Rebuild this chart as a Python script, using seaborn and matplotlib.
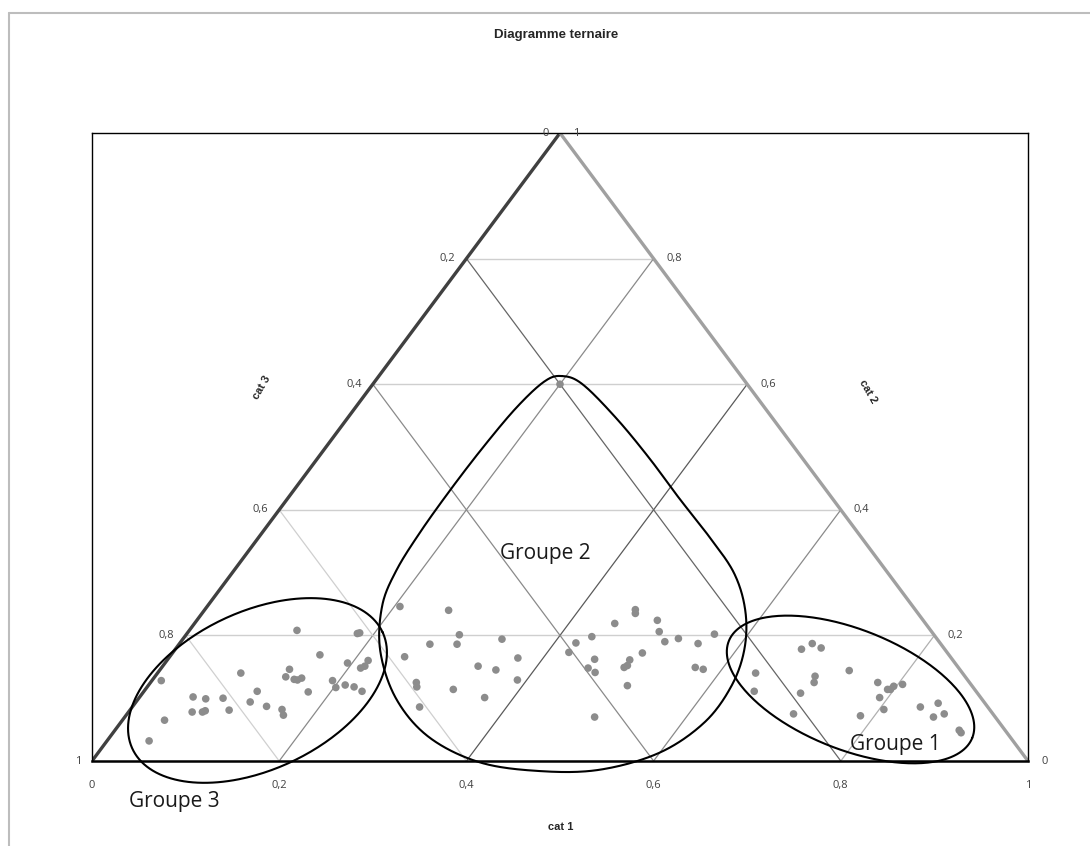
import numpy as np
import pandas as pd
import matplotlib
matplotlib.use("Agg")
import matplotlib.pyplot as plt
from matplotlib.lines import Line2D
import seaborn as sns

# compositions; cat 3 = 1 - cat 1 - cat 2
cat1_g3 = [0.115, 0.184, 0.182, 0.159, 0.195, 0.215, 0.216, 0.213, 0.138, 0.140,
           0.151, 0.155, 0.158, 0.089, 0.193, 0.202, 0.210, 0.221, 0.233, 0.176,
           0.121, 0.122, 0.143, 0.162, 0.168, 0.010, 0.057, 0.072, 0.090, 0.106,
           0.068, 0.079, 0.081, 0.045, 0.045]
cat2_g3 = [0.208, 0.204, 0.203, 0.169, 0.156, 0.160, 0.151, 0.148, 0.146, 0.134,
           0.130, 0.129, 0.132, 0.140, 0.128, 0.117, 0.121, 0.118, 0.111, 0.110,
           0.111, 0.094, 0.087, 0.082, 0.073, 0.128, 0.102, 0.099, 0.100, 0.081,
           0.078, 0.078, 0.080, 0.065, 0.032]

cat1_g2 = [0.206, 0.261, 0.292, 0.268, 0.297, 0.341, 0.251, 0.337, 0.359, 0.373,
           0.390, 0.284, 0.288, 0.329, 0.369, 0.307, 0.460, 0.463, 0.449, 0.492,
           0.503, 0.435, 0.423, 0.517, 0.529, 0.564, 0.554, 0.423, 0.502, 0.456,
           0.494, 0.496, 0.494, 0.456, 0.467, 0.570, 0.580, 0.512, 0.502, 0.200]
cat2_g2 = [0.246, 0.240, 0.201, 0.186, 0.186, 0.194, 0.166, 0.151, 0.145, 0.164,
           0.129, 0.125, 0.118, 0.114, 0.101, 0.086, 0.241, 0.235, 0.219, 0.224,
           0.206, 0.198, 0.188, 0.190, 0.195, 0.202, 0.187, 0.173, 0.172, 0.162,
           0.161, 0.152, 0.149, 0.148, 0.141, 0.149, 0.146, 0.120, 0.070, 0.600]

cat1_g1 = [0.669, 0.676, 0.689, 0.639, 0.652, 0.703, 0.705, 0.709, 0.737, 0.712,
           0.785, 0.777, 0.793, 0.796, 0.797, 0.805, 0.791, 0.805, 0.842, 0.858,
           0.864, 0.873, 0.902, 0.906]
cat2_g1 = [0.178, 0.187, 0.180, 0.140, 0.111, 0.108, 0.135, 0.125, 0.144, 0.075,
           0.072, 0.125, 0.114, 0.114, 0.119, 0.122, 0.101, 0.082, 0.086, 0.092,
           0.070, 0.075, 0.049, 0.045]

grid_vals = [0.2, 0.4, 0.6, 0.8]
tick_vals = [0.0, 0.2, 0.4, 0.6, 0.8, 1.0]

# hand-drawn outline of "Groupe 2" (x along cat 1 axis, height = cat 2)
g2_outline = [(0.502, 0.613), (0.524, 0.600), (0.560, 0.546), (0.595, 0.483),
              (0.627, 0.419), (0.659, 0.358), (0.686, 0.299), (0.698, 0.239),
              (0.697, 0.178), (0.683, 0.119), (0.654, 0.061), (0.606, 0.013),
              (0.542, -0.014), (0.478, -0.016), (0.414, -0.002), (0.360, 0.038),
              (0.325, 0.099), (0.308, 0.175), (0.310, 0.247), (0.325, 0.303),
              (0.350, 0.363), (0.382, 0.430), (0.417, 0.498), (0.453, 0.562),
              (0.483, 0.604)]


def fmt(v):
    return ("%g" % round(v, 1)).replace(".", ",")


def to_xy(c1, c2):
    c1 = np.asarray(c1)
    c2 = np.asarray(c2)
    return c1 + c2 / 2, c2


def closed_spline(pts, n=30):
    p = np.asarray(pts, dtype=float)
    m = len(p)
    t = np.linspace(0, 1, n, endpoint=False)[:, None]
    segs = []
    for i in range(m):
        p0, p1, p2, p3 = p[i - 1], p[i], p[(i + 1) % m], p[(i + 2) % m]
        segs.append(0.5 * (2 * p1 + (p2 - p0) * t
                           + (2 * p0 - 5 * p1 + 4 * p2 - p3) * t ** 2
                           + (3 * p1 - p0 - 3 * p2 + p3) * t ** 3))
    out = np.vstack(segs + [segs[0][:1]])
    return out[:, 0], out[:, 1]


rows = []
for grp, c1s, c2s in [("Groupe 3", cat1_g3, cat2_g3),
                      ("Groupe 2", cat1_g2, cat2_g2),
                      ("Groupe 1", cat1_g1, cat2_g1)]:
    for a, b in zip(c1s, c2s):
        rows.append({"groupe": grp, "cat1": a, "cat2": b, "cat3": 1 - a - b})
df = pd.DataFrame(rows)
df["x"], df["y"] = to_xy(df["cat1"], df["cat2"])

sns.set_theme(style="white")
plt.rcParams["font.family"] = ["Liberation Sans", "DejaVu Sans"]

W, H = 1090, 846
fig = plt.figure(figsize=(W / 100, H / 100), dpi=100)
ax = fig.add_axes([92 / W, (H - 761) / H, 936 / W, 628 / H])
ax.set_xlim(0, 1)
ax.set_ylim(0, 1)
ax.set_xticks([])
ax.set_yticks([])
for side in ["left", "top", "right"]:
    ax.spines[side].set_color("black")
    ax.spines[side].set_linewidth(1.0)
ax.spines["bottom"].set_color("black")
ax.spines["bottom"].set_linewidth(1.8)

# grid: horizontal (cat 2), rising (cat 1), falling (cat 3)
for h in grid_vals:
    ax.plot([h / 2, 1 - h / 2], [h, h], color="#cfcfcf", lw=1.0, zorder=1)
rise_cols = {0.2: "#8a8a8a", 0.4: "#5a5a5a", 0.6: "#8a8a8a", 0.8: "#b0b0b0"}
for c in grid_vals:
    ax.plot([c, c + (1 - c) / 2], [0, 1 - c], color=rise_cols[c], lw=0.9, zorder=1)
fall_cols = {0.2: "#d0d0d0", 0.4: "#cfcfcf", 0.6: "#8a8a8a", 0.8: "#666666"}
for c in grid_vals:
    ax.plot([c, c / 2], [0, c], color=fall_cols[c], lw=0.9, zorder=1)

# triangle sides
ax.plot([0, 0.5], [0, 1], color="#404040", lw=2.4, zorder=2, solid_capstyle="butt")
ax.plot([0.5, 1], [1, 0], color="#a0a0a0", lw=2.4, zorder=2, solid_capstyle="butt")

sns.scatterplot(data=df, x="x", y="y", color="#8c8c8c", s=30, edgecolor="none",
                ax=ax, zorder=3, legend=False)
ax.set_xlabel("")
ax.set_ylabel("")

# tick labels on the three sides
tk = dict(fontsize=8, color="#404040", family=["Open Sans", "DejaVu Sans"],
          textcoords="offset pixels", annotation_clip=False)
for v in tick_vals:
    ax.annotate(fmt(v), (v, 0), xytext=(0, -24), ha="center", va="center", **tk)
    ax.annotate(fmt(1 - v), (v / 2, v), xytext=(-11, 0), ha="right", va="center", **tk)
    ax.annotate(fmt(v), (1 - v / 2, v), xytext=(13, 0), ha="left", va="center", **tk)

# group outlines
fig.canvas.draw()
bb = ax.get_window_extent()
sx, sy = bb.width, bb.height
t = np.linspace(0, 2 * np.pi, 300)
for cx, cy, a, b, deg in [(0.1768, 0.1123, 138, 79, 25), (0.8104, 0.1139, 131, 60, -21.7)]:
    th = np.radians(deg)
    u, w = a * np.cos(t), b * np.sin(t)
    ax.plot(cx + (u * np.cos(th) - w * np.sin(th)) / sx,
            cy + (u * np.sin(th) + w * np.cos(th)) / sy,
            color="black", lw=1.5, zorder=4, clip_on=False)
gx, gy = closed_spline(g2_outline)
ax.plot(gx, gy, color="black", lw=1.5, zorder=4, clip_on=False)

gl = dict(fontsize=15, color="#1a1a1a", family=["Open Sans", "DejaVu Sans"],
          ha="center", va="center", zorder=5)
ax.text(0.0876, -0.0637, "Groupe 3", clip_on=False, **gl)
ax.text(0.484, 0.331, "Groupe 2", **gl)
ax.text(0.858, 0.027, "Groupe 1", **gl)

# titles
fig.text(556 / W, 1 - 35 / H, "Diagramme ternaire", fontsize=9.5, fontweight="bold",
         color="#262626", ha="center", va="center")
fig.text(561 / W, 1 - 827 / H, "cat 1", fontsize=8, fontweight="bold",
         color="#262626", ha="center", va="center")
fig.text(262 / W, 1 - 388 / H, "cat 3", fontsize=8, fontweight="bold",
         color="#262626", ha="center", va="center", rotation=60)
fig.text(868 / W, 1 - 392 / H, "cat 2", fontsize=8, fontweight="bold",
         color="#262626", ha="center", va="center", rotation=-60)

# chart area frame (only top and left visible in the source)
fig.add_artist(Line2D([9 / W, 1], [1 - 13 / H, 1 - 13 / H], color="#bdbdbd", lw=1.5))
fig.add_artist(Line2D([9 / W, 9 / W], [0, 1 - 13 / H], color="#bdbdbd", lw=1.5))

fig.savefig("out.png", dpi=100)
